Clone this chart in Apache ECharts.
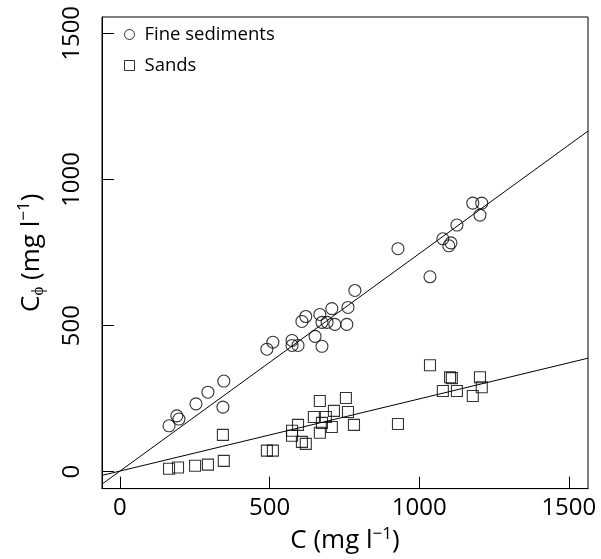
<!DOCTYPE html>
<html>
<head>
<meta charset="utf-8">
<script src="https://cdn.jsdelivr.net/npm/echarts@6/dist/echarts.min.js"></script>
<style>
html,body{margin:0;padding:0;background:#fff;}
#chart{width:601px;height:559px;}
</style>
</head>
<body>
<div id="chart"></div>
<script>
// ---- data ----
const xTicks = [0, 500, 1000, 1500];
const yTicks = [0, 500, 1000, 1500];
const seriesNames = ['Fine sediments', 'Sands'];

const fineC    = [164, 190, 197, 254, 294, 347, 344, 491, 511, 575, 575, 595, 608, 621, 668, 708, 762, 675, 692, 718, 758, 652, 675, 785, 929, 1036, 1079, 1099, 1106, 1126, 1179, 1209, 1203];
const fineCphi = [157, 191, 180, 232, 272, 310, 221, 419, 443, 449, 432, 432, 514, 531, 538, 558, 562, 511, 511, 504, 504, 463, 429, 620, 763, 667, 797, 773, 783, 844, 919, 919, 878];

const sandC    = [164, 194, 251, 294, 347, 344, 491, 511, 575, 575, 595, 608, 621, 668, 755, 648, 688, 715, 762, 675, 708, 782, 668, 929, 1036, 1103, 1109, 1079, 1126, 1203, 1209, 1179];
const sandCphi = [10, 14, 20, 24, 37, 126, 72, 72, 140, 123, 160, 102, 95, 242, 252, 187, 187, 208, 204, 167, 153, 160, 133, 163, 364, 323, 320, 276, 276, 323, 289, 259];

// regression fits: [intercept, slope]
const fineFit = [2, 0.744];
const sandFit = [2, 0.247];

const xRange = [-60, 1564];
const yRange = [-58, 1556];

function pairs(xs, ys) { return xs.map((x, i) => [x, ys[i]]); }
function fitLine(fit) { return xRange.map(x => [x, fit[0] + fit[1] * x]); }

const FONT = 'Open Sans';
const chart = echarts.init(document.getElementById('chart'), null, {renderer: 'canvas'});

const richName = {
  a: {fontSize: 26, fontFamily: FONT, color: '#000'},
  sup: {fontSize: 17, fontFamily: FONT, color: '#000', verticalAlign: 'top', padding: [0, 0, 14, 0]},
  sub: {fontSize: 17, fontFamily: FONT, color: '#000', verticalAlign: 'bottom', padding: [10, 0, 0, 0]}
};

chart.setOption({
  animation: false,
  backgroundColor: '#fff',
  grid: {left: 102, top: 17, right: 13, bottom: 68, show: true, borderColor: '#000', borderWidth: 1, containLabel: false},
  legend: {
    orient: 'vertical', left: 119, top: 20, itemGap: 12, itemWidth: 10, itemHeight: 10,
    textStyle: {fontFamily: FONT, fontSize: 18.5, color: '#000', padding: [0, 0, 0, 5]},
    data: [
      {name: seriesNames[0], icon: 'circle', itemStyle: {color: '#fff', borderColor: '#000', borderWidth: 1}},
      {name: seriesNames[1], icon: 'rect', itemStyle: {color: '#fff', borderColor: '#000', borderWidth: 1}}
    ]
  },
  xAxis: {
    type: 'value', min: xRange[0], max: xRange[1],
    axisLine: {show: true, onZero: false, lineStyle: {color: '#000', width: 1}},
    axisTick: {show: true, inside: true, length: 12, customValues: xTicks, lineStyle: {color: '#000'}},
    axisLabel: {customValues: xTicks, formatter: v => String(v), fontFamily: FONT, fontSize: 24, color: '#000', margin: 8},
    splitLine: {show: false},
    name: '{a|C (mg l}{sup|−1}{a|)}',
    nameLocation: 'middle', nameGap: 35,
    nameTextStyle: {rich: richName}
  },
  yAxis: {
    type: 'value', min: yRange[0], max: yRange[1],
    axisLine: {show: true, onZero: false, lineStyle: {color: '#000', width: 1}},
    axisTick: {show: true, inside: true, length: 12, customValues: yTicks, lineStyle: {color: '#000'}},
    axisLabel: {customValues: yTicks, formatter: v => String(v), fontFamily: FONT, fontSize: 24, color: '#000', margin: 18, rotate: 90},
    splitLine: {show: false},
    name: '{a|C}{sub|ϕ}{a| (mg l}{sup|−1}{a|)}',
    nameLocation: 'middle', nameGap: 55, nameRotate: 90,
    nameTextStyle: {rich: richName}
  },
  series: [
    {
      name: seriesNames[0], type: 'scatter', symbol: 'circle', symbolSize: 12,
      itemStyle: {color: 'rgba(255,255,255,0)', borderColor: '#000', borderWidth: 1.1},
      data: pairs(fineC, fineCphi), z: 3
    },
    {
      name: seriesNames[1], type: 'scatter', symbol: 'rect', symbolSize: 11,
      itemStyle: {color: 'rgba(255,255,255,0)', borderColor: '#000', borderWidth: 1.1},
      data: pairs(sandC, sandCphi), z: 3
    },
    {
      type: 'line', data: fitLine(fineFit), showSymbol: false, symbol: 'none', clip: true,
      lineStyle: {color: '#000', width: 1}, silent: true, z: 2
    },
    {
      type: 'line', data: fitLine(sandFit), showSymbol: false, symbol: 'none', clip: true,
      lineStyle: {color: '#000', width: 1}, silent: true, z: 2
    }
  ]
});
</script>
</body>
</html>
